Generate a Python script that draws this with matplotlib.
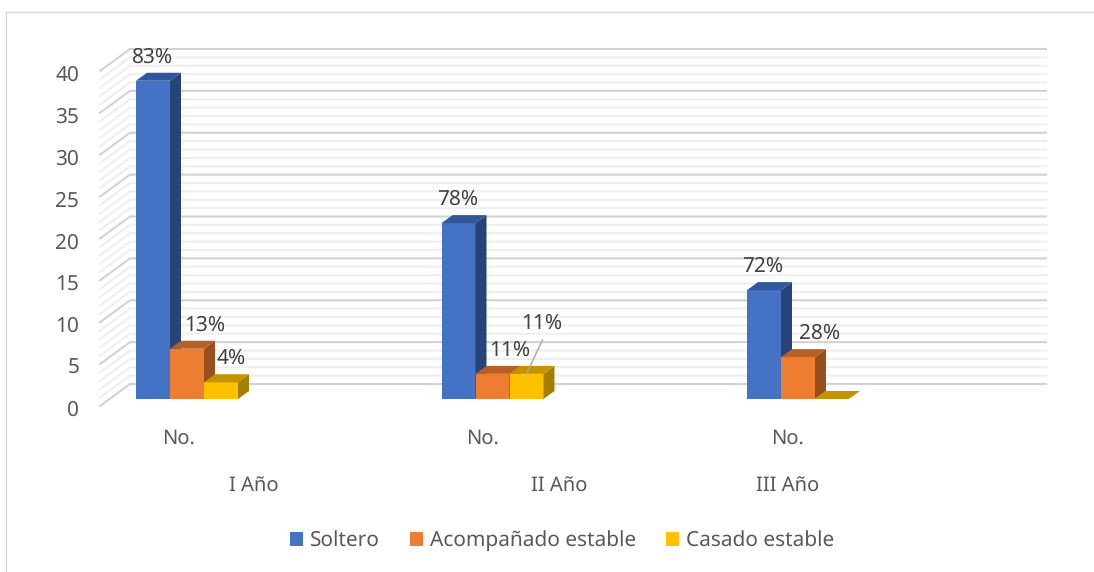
from __future__ import annotations

import matplotlib

matplotlib.use("Agg")
import matplotlib.pyplot as plt
from matplotlib.lines import Line2D
from matplotlib.patches import Patch, Polygon
from matplotlib.transforms import ScaledTranslation

years = ["I Año", "II Año", "III Año"]
series_names = ["Soltero", "Acompañado estable", "Casado estable"]
soltero = [38, 21, 13]
acompanado = [6, 3, 5]
casado = [2, 3, 0]
soltero_pct = ["83%", "78%", "72%"]
acompanado_pct = ["13%", "11%", "28%"]
casado_pct = ["4%", "11%", None]

# 色: 正面, 上面, 側面
STYLES = [
    ("#4472C4", "#30569C", "#264478"),
    ("#ED7D31", "#B85F24", "#974F1E"),
    ("#FFC000", "#C49400", "#A37F00"),
]
TEXT_DARK = "#404040"
TEXT_GREY = "#595959"

W, H = 1094, 572
PX_PER_UNIT = 8.375
PX_PER_GROUP = 305.5
BAR_W = 34 / PX_PER_GROUP
BAR_DX, BAR_DY = 11 / PX_PER_GROUP, 8 / PX_PER_UNIT
WALL_DX, WALL_DY = 30 / PX_PER_GROUP, 22 / PX_PER_UNIT
BASE = 7 / PX_PER_UNIT
AX_LEFT, AX_RIGHT, AX_BOTTOM, AX_TOP = 100, 1046, 406, 49
GROUP0_PX = 187

# ラベルのずらし量 (px)
LABEL_OFFSETS = [
    [(0, 23), (-1, 24), (-1, 24)],
    [(18, 23), (17, 23), (22, 24)],
    [(10, 24), (15, 50), (0, 0)],
]
NO_OFFSET = [-9, -10, -11]
YEAR_OFFSET = [66, 66, -11]

plt.rcParams["font.family"] = ["Noto Sans", "DejaVu Sans"]
plt.rcParams["text.hinting"] = "none"


def draw_bar(ax, x: float, value: float, style: tuple[str, str, str]) -> None:
    """疑似3Dの棒を1本描画する。"""
    front, top, side = style
    y0, y1 = BASE, BASE + value
    if value > 0:
        ax.add_patch(Polygon([(x, y0), (x + BAR_W, y0), (x + BAR_W, y1), (x, y1)], color=front, lw=0, zorder=3))
        ax.add_patch(
            Polygon(
                [(x + BAR_W, y0), (x + BAR_W + BAR_DX, y0 + BAR_DY), (x + BAR_W + BAR_DX, y1 + BAR_DY), (x + BAR_W, y1)],
                color=side,
                lw=0,
                zorder=3,
            )
        )
    ax.add_patch(
        Polygon(
            [(x, y1), (x + BAR_W, y1), (x + BAR_W + BAR_DX, y1 + BAR_DY), (x + BAR_DX, y1 + BAR_DY)],
            color=top,
            lw=0,
            zorder=3,
        )
    )


def main() -> None:
    fig = plt.figure(figsize=(W / 100, H / 100), dpi=100)
    ax = fig.add_axes([AX_LEFT / W, 1 - AX_BOTTOM / H, (AX_RIGHT - AX_LEFT) / W, (AX_BOTTOM - AX_TOP) / H])
    ax.set_xlim((AX_LEFT - GROUP0_PX) / PX_PER_GROUP, (AX_RIGHT - GROUP0_PX) / PX_PER_GROUP)
    ax.set_ylim(0, (AX_BOTTOM - AX_TOP) / PX_PER_UNIT)
    ax.patch.set_visible(False)
    for spine in ax.spines.values():
        spine.set_visible(False)

    # 壁の格子線
    x_front = ax.get_xlim()[0]
    x_end = ax.get_xlim()[1]
    for v in range(0, 41):
        major = v % 5 == 0
        color = "#D2D2D2" if major else "#EFEFEF"
        lw = 1.5 if major else 1.6
        z = 2 if major else 1
        ax.plot([x_front, x_front + WALL_DX, x_end], [v, v + WALL_DY, v + WALL_DY], color=color, lw=lw, zorder=z, clip_on=False)

    values = [soltero, acompanado, casado]
    labels = [soltero_pct, acompanado_pct, casado_pct]
    for g in range(len(years)):
        for s, series in enumerate(values):
            x = g + (s - 1.5) * BAR_W
            draw_bar(ax, x, series[g], STYLES[s])
            if labels[s][g] is None:
                continue
            ax.annotate(
                labels[s][g],
                xy=(g + (s - 1) * BAR_W, BASE + series[g]),
                xytext=LABEL_OFFSETS[s][g],
                textcoords="offset pixels",
                ha="center",
                va="center",
                fontsize=15,
                color=TEXT_DARK,
                zorder=5,
                annotation_clip=False,
            )

    # II Año の Casado ラベルの引き出し線
    ax.annotate(
        "",
        xy=(1 + BAR_W, BASE + casado[1]),
        xytext=(16, 34),
        textcoords="offset pixels",
        arrowprops=dict(arrowstyle="-", color="#ABABAB", lw=1.1, shrinkA=0, shrinkB=0),
        zorder=5,
        annotation_clip=False,
    )

    ax.set_yticks(range(0, 41, 5))
    ax.tick_params(axis="y", length=0, pad=15, labelsize=15, labelcolor=TEXT_GREY)
    shift = ScaledTranslation(0, -1.5 / 72 * 1.0, fig.dpi_scale_trans)
    for label in ax.get_yticklabels():
        label.set_transform(label.get_transform() + shift)
    ax.set_xticks([g + d / PX_PER_GROUP for g, d in enumerate(NO_OFFSET)])
    ax.set_xticklabels(["No."] * len(years))
    ax.tick_params(axis="x", length=0, pad=16, labelsize=14.5, labelcolor=TEXT_GREY)

    for g, name in enumerate(years):
        ax.annotate(
            name,
            xy=(g + YEAR_OFFSET[g] / PX_PER_GROUP, 0),
            xytext=(1, -81),
            textcoords="offset pixels",
            ha="center",
            va="center",
            fontsize=14.5,
            color=TEXT_GREY,
            annotation_clip=False,
        )

    handles = [Patch(facecolor=st[0], edgecolor="none", label=n) for st, n in zip(STYLES, series_names)]
    fig.legend(
        handles=handles,
        loc="center",
        bbox_to_anchor=(562 / W, 1 - 541 / H),
        ncol=3,
        frameon=False,
        fontsize=15,
        labelcolor=TEXT_GREY,
        handlelength=0.62,
        handleheight=0.62,
        handletextpad=0.32,
        columnspacing=1.45,
    )

    # 外枠 (上と左のみ見える)
    fig.add_artist(Line2D([6 / W, 1], [1 - 12 / H, 1 - 12 / H], color="#D9D9D9", lw=1.0))
    fig.add_artist(Line2D([6 / W, 6 / W], [0, 1 - 12 / H], color="#D9D9D9", lw=1.0))

    fig.savefig("out.png", dpi=100, facecolor="white")


if __name__ == "__main__":
    main()
